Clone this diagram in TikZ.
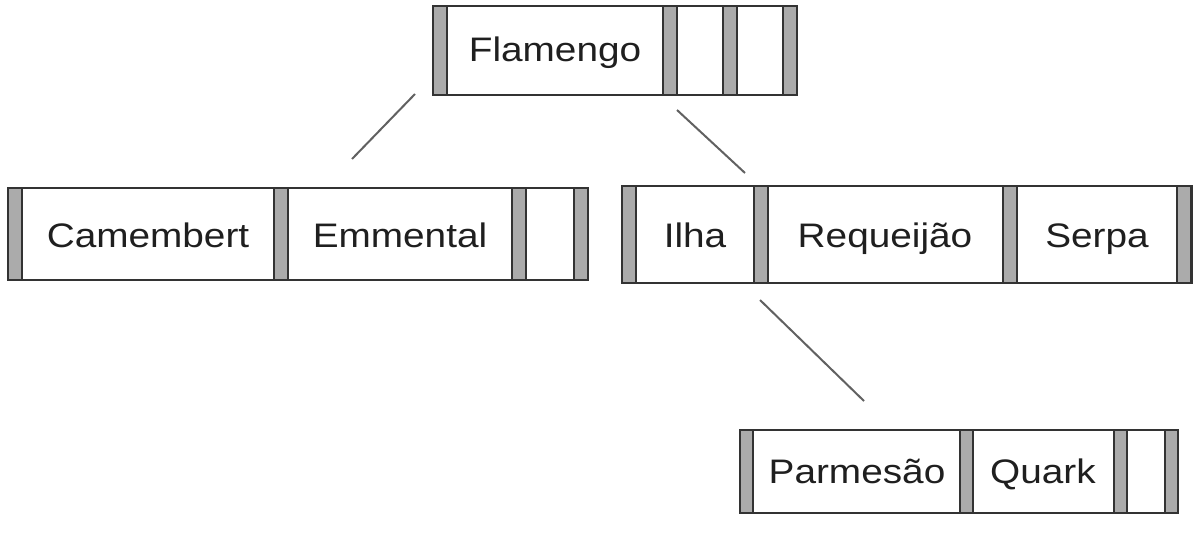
\documentclass[tikz,border=0pt]{standalone}
\usepackage{fontspec}
\setmainfont{Liberation Sans}[FakeStretch=1.14]
\begin{document}
\begin{tikzpicture}[x=1pt,y=-1pt,
  frame/.style={draw=black!80,line width=1.6pt,fill=white},
  bar/.style={draw=black!80,line width=1.4pt,fill=black!33},
  key/.style={anchor=base,inner sep=0pt,font=\fontsize{34}{38}\selectfont,text=black!88},
  link/.style={draw=black!62,line width=2pt}]
\useasboundingbox (0,0) rectangle (1201,535);
% top node
\draw[frame] (433,6) rectangle (797,95);
\foreach \a in {433,663,723,783} \draw[bar] (\a,6) rectangle (\a+14,95);
\node[key] (flamengo) at (555,61) {Flamengo};
% left node
\draw[frame] (8,188) rectangle (588,280);
\foreach \a in {8,274,512,574} \draw[bar] (\a,188) rectangle (\a+14,280);
\node[key] (camembert) at (148,247) {Camembert};
\node[key] (emmental) at (400,247) {Emmental};
% right node
\draw[frame] (622,186) rectangle (1192,283);
\foreach \a in {622,754,1003,1177} \draw[bar] (\a,186) rectangle (\a+14,283);
\node[key] (ilha) at (695,247) {Ilha};
\node[key] (requeijao) at (885,247) {Requeijão};
\node[key] (serpa) at (1097,247) {Serpa};
% bottom node
\draw[frame] (740,430) rectangle (1178,513);
\foreach \a in {740,960,1114,1165} \draw[bar] (\a,430) rectangle (\a+13,513);
\node[key] (parmesao) at (857,483) {Parmesão};
\node[key] (quark) at (1043,483) {Quark};
% connectors
\coordinate (l1a) at (415,94);
\coordinate (l1b) at (352,159);
\coordinate (l2a) at (677,110);
\coordinate (l2b) at (745,173);
\coordinate (l3a) at (760,300);
\coordinate (l3b) at (864,401);
\draw[link] (l1a) -- (l1b);
\draw[link] (l2a) -- (l2b);
\draw[link] (l3a) -- (l3b);
\end{tikzpicture}
\end{document}
